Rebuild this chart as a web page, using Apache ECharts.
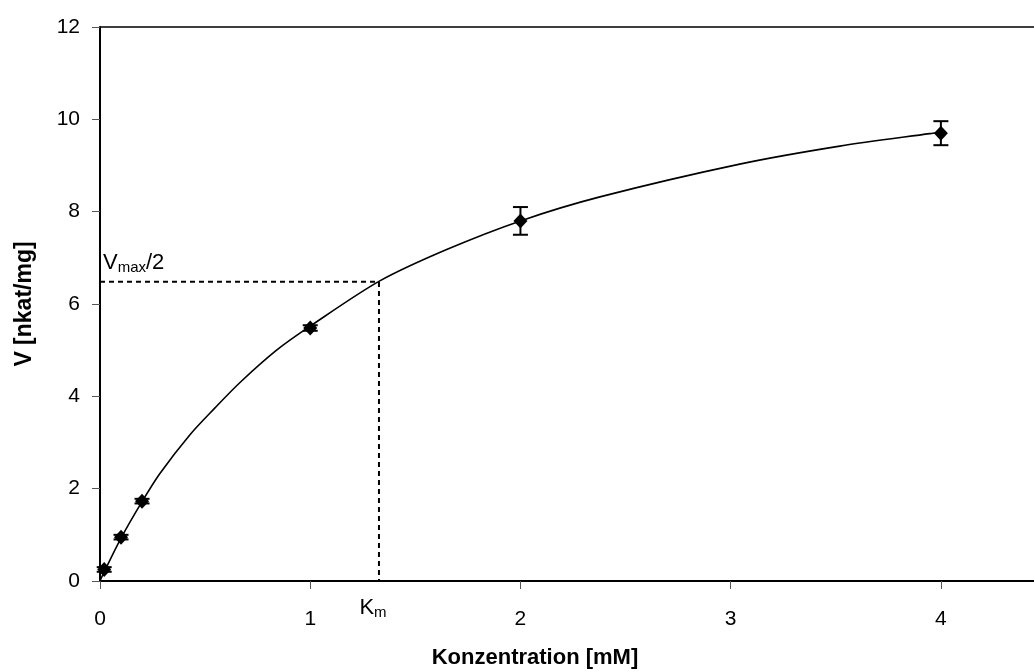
<!DOCTYPE html>
<html>
<head>
<meta charset="utf-8">
<script src="https://cdn.jsdelivr.net/npm/echarts@6/dist/echarts.min.js"></script>
<style>
  html, body { margin: 0; padding: 0; background: #fff; }
  #chart { width: 1034px; height: 672px; }
</style>
</head>
<body>
<div id="chart"></div>
<script>
// Measured substrate concentrations [mM] and reaction velocities [nkat/mg]
const concentration = [0.02, 0.1, 0.2, 1, 2, 4];
const velocity      = [0.25, 0.95, 1.73, 5.48, 7.8, 9.7];
const velocityError = [0.05, 0.05, 0.05, 0.06, 0.3, 0.26];

// Saturation curve through the measurements
const curveX = [0, 0.02, 0.1, 0.2, 0.285, 0.428, 0.547, 0.666, 0.84, 1.0, 1.331, 1.649, 2.0, 2.378, 3.043, 3.519, 3.947, 4.0];
const curveY = [0, 0.2, 0.93, 1.72, 2.33, 3.17, 3.75, 4.3, 5.0, 5.52, 6.5, 7.18, 7.8, 8.32, 9.03, 9.42, 9.69, 9.72];

// Half-maximal velocity and the Michaelis constant
const halfVmax = 6.48;
const km = 1.327;

// Axis tick labels
const xTickLabels = ['0', '1', '2', '3', '4'];
const yTickLabels = ['0', '2', '4', '6', '8', '10', '12'];

const FONT = '"Liberation Sans", Arial, sans-serif';

const chart = echarts.init(document.getElementById('chart'), null, { renderer: 'canvas' });

const points = concentration.map((c, i) => [c, velocity[i]]);
const errData = concentration.map((c, i) => [c, velocity[i] - velocityError[i], velocity[i] + velocityError[i]]);
const curve = curveX.map((x, i) => [x, curveY[i]]);

const tickText = (labels) => (v) => {
  const s = String(v);
  return labels.indexOf(s) >= 0 ? s : '';
};

const subRich = {
  v: { fontFamily: FONT, fontSize: 22, color: '#000', lineHeight: 24 },
  s: { fontFamily: FONT, fontSize: 15, color: '#000', lineHeight: 24, padding: [10, 0, 0, 0] }
};

chart.setOption({
  backgroundColor: '#ffffff',
  animation: false,
  grid: {
    left: 100, top: 27, right: -12, bottom: 91,
    outerBoundsMode: 'none',
    containLabel: false
  },
  xAxis: [
    {
      type: 'value',
      min: 0, max: 4.5, interval: 1,
      axisLine: { show: true, onZero: false, lineStyle: { color: '#000', width: 2 } },
      axisTick: { show: true, length: 8, lineStyle: { color: '#555', width: 1 } },
      axisLabel: {
        color: '#000', fontFamily: FONT, fontSize: 21, margin: 28,
        formatter: tickText(xTickLabels)
      },
      splitLine: { show: false }
    },
    {
      // top frame line
      type: 'value', position: 'top',
      min: 0, max: 4.5,
      axisLine: { show: true, onZero: false, lineStyle: { color: '#000', width: 1.5 } },
      axisTick: { show: false }, axisLabel: { show: false }, splitLine: { show: false }
    }
  ],
  yAxis: {
    type: 'value',
    min: 0, max: 12, interval: 2,
    name: 'V [nkat/mg]',
    nameLocation: 'middle',
    nameGap: 64,
    nameTextStyle: { color: '#000', fontFamily: FONT, fontSize: 23, fontWeight: 'bold' },
    axisLine: { show: true, onZero: false, lineStyle: { color: '#000', width: 2 } },
    axisTick: { show: true, length: 8, lineStyle: { color: '#555', width: 1 } },
    axisLabel: { color: '#000', fontFamily: FONT, fontSize: 21, margin: 20, formatter: tickText(yTickLabels) },
    splitLine: { show: false }
  },
  graphic: [{
    type: 'text',
    x: 535, y: 658,
    style: {
      text: 'Konzentration [mM]',
      fill: '#000', font: 'bold 22px ' + FONT,
      textAlign: 'center', textVerticalAlign: 'middle'
    }
  }],
  series: [
    {
      // fitted saturation curve
      type: 'line',
      data: curve,
      smooth: 0.3,
      showSymbol: false,
      lineStyle: { color: '#000', width: 1.6 },
      z: 3
    },
    {
      // Vmax/2 and Km guide lines
      type: 'line',
      data: [[0, halfVmax], [km, halfVmax], [km, 0]],
      showSymbol: false,
      lineStyle: { color: '#000', width: 2, type: [5, 4] },
      z: 2
    },
    {
      // error bars
      type: 'custom',
      data: errData,
      renderItem: function (params, api) {
        const x = api.value(0);
        const lo = api.coord([x, api.value(1)]);
        const hi = api.coord([x, api.value(2)]);
        const cap = 7.5;
        const style = { stroke: '#000', lineWidth: 2 };
        return {
          type: 'group',
          children: [
            { type: 'line', shape: { x1: lo[0], y1: lo[1], x2: hi[0], y2: hi[1] }, style: style },
            { type: 'line', shape: { x1: lo[0] - cap, y1: lo[1], x2: lo[0] + cap, y2: lo[1] }, style: style },
            { type: 'line', shape: { x1: hi[0] - cap, y1: hi[1], x2: hi[0] + cap, y2: hi[1] }, style: style }
          ]
        };
      },
      z: 4
    },
    {
      // measured values
      type: 'scatter',
      data: points,
      symbol: 'diamond',
      symbolSize: [14, 15],
      itemStyle: { color: '#000', opacity: 1 },
      z: 5
    },
    {
      // annotation labels
      type: 'scatter',
      symbol: 'circle',
      symbolSize: 0,
      itemStyle: { color: '#000', opacity: 1 },
      silent: true,
      label: { color: '#000', opacity: 1 },
      data: [
        {
          value: [0, halfVmax],
          label: {
            show: true, position: 'top', align: 'left', offset: [3, -2],
            color: '#000',
            formatter: '{v|V}{s|max}{v|/2}',
            rich: subRich
          }
        },
        {
          value: [km, 0],
          label: {
            show: true, position: 'bottom', offset: [-6, 10],
            color: '#000',
            formatter: '{v|K}{s|m}',
            rich: subRich
          }
        }
      ],
      z: 6
    }
  ]
});
</script>
</body>
</html>
